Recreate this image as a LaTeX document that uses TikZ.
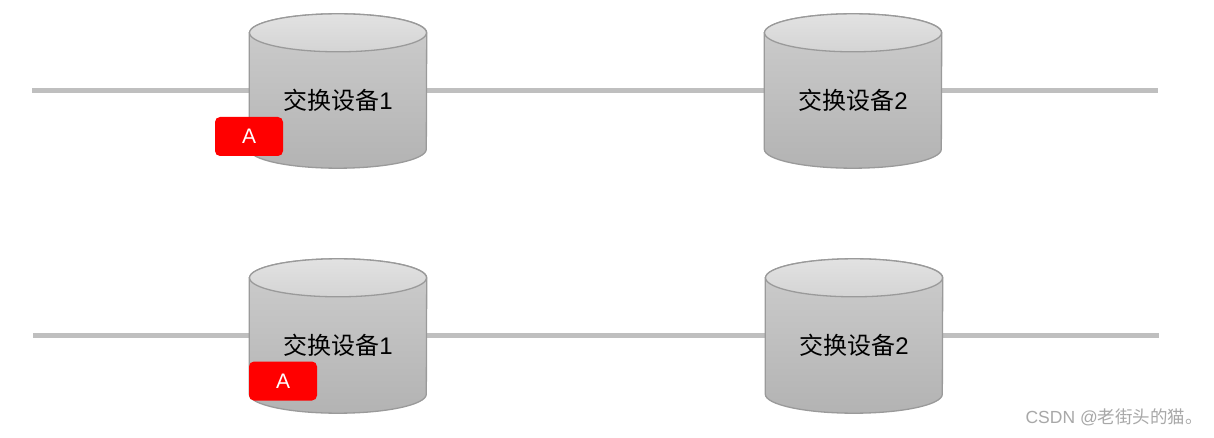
\documentclass[tikz,border=0pt]{standalone}
\usepackage{fontspec}
\setmainfont{Liberation Sans}
\newfontfamily\cjk{Noto Sans CJK SC}
\usetikzlibrary{calc}
\definecolor{linegray}{HTML}{BFBFBF}
\definecolor{edgegray}{HTML}{9A9A9A}
\definecolor{bodytop}{HTML}{CDCDCD}
\definecolor{bodybot}{HTML}{B3B3B3}
\definecolor{lidtop}{HTML}{E2E2E2}
\definecolor{lidbot}{HTML}{D4D4D4}
\definecolor{wmgray}{HTML}{A8A8A8}
\newcommand{\swcyl}[4]{%
  \node[cylholder] (#1) at (#2,#3) {};
  \path[draw=edgegray, line width=1.3pt, top color=bodytop, bottom color=bodybot]
    ($(#1.north west)+(0,-19)$) -- ($(#1.south west)+(0,19)$)
    arc[start angle=180, end angle=360, x radius=88.5, y radius=19]
    -- ($(#1.north east)+(0,-19)$)
    arc[start angle=0, end angle=180, x radius=88.5, y radius=19] -- cycle;
  \path[draw=edgegray, line width=1.3pt, top color=lidtop, bottom color=lidbot]
    ($(#1.north)+(0,-19)$) ellipse[x radius=88.5, y radius=19];
  \node[cyllabel] (#1-label) at ($(#1)+(0,-9)$) {#4};
}
\tikzset{
  cylholder/.style={rectangle, inner sep=0pt, minimum width=177pt, minimum height=154pt},
  cyllabel/.style={font=\fontsize{24}{28}\selectfont, text=black, inner sep=0pt},
  link/.style={draw=linegray, line width=5pt},
  tagbox/.style={rectangle, fill=red, rounded corners=5pt, minimum width=68pt, minimum height=39pt, inner sep=0pt, text=white, font=\fontsize{21}{24}\selectfont},
  watermark/.style={font=\fontsize{17.5}{20}\selectfont, text=wmgray, inner sep=0pt, anchor=east}
}
\begin{document}
\begin{tikzpicture}[x=1pt, y=1pt]
\useasboundingbox[fill=white] (0,0) rectangle (1214,-438);
% end points
\coordinate (tl) at (32,-91);
\coordinate (tr) at (1158,-91);
\coordinate (bl) at (33,-335);
\coordinate (br) at (1159,-335);
% placeholder nodes for link routing
\node[cylholder] (p1) at (338,-91) {};
\node[cylholder] (p2) at (853,-91) {};
\node[cylholder] (p3) at (338,-336) {};
\node[cylholder] (p4) at (854,-336) {};
\draw[link] (tl) -- (p1.west);
\draw[link] (p1.east) -- (p2.west);
\draw[link] (p2.east) -- (tr);
\draw[link] (bl) -- ($(p3.west)+(0,1)$);
\draw[link] ($(p3.east)+(0,1)$) -- ($(p4.west)+(0,1)$);
\draw[link] ($(p4.east)+(0,1)$) -- (br);
% cylinders
\swcyl{c1}{338}{-91}{{\cjk 交换设备}1}
\swcyl{c2}{853}{-91}{{\cjk 交换设备}2}
\swcyl{c3}{338}{-336}{{\cjk 交换设备}1}
\swcyl{c4}{854}{-336}{{\cjk 交换设备}2}
% tags
\node[tagbox] (a1) at (249,-136.5) {A};
\node[tagbox] (a2) at (283,-381) {A};
% watermark
\node[watermark] (wm) at (1203,-417) {CSDN @{\cjk 老街头的猫。}};
\end{tikzpicture}
\end{document}
